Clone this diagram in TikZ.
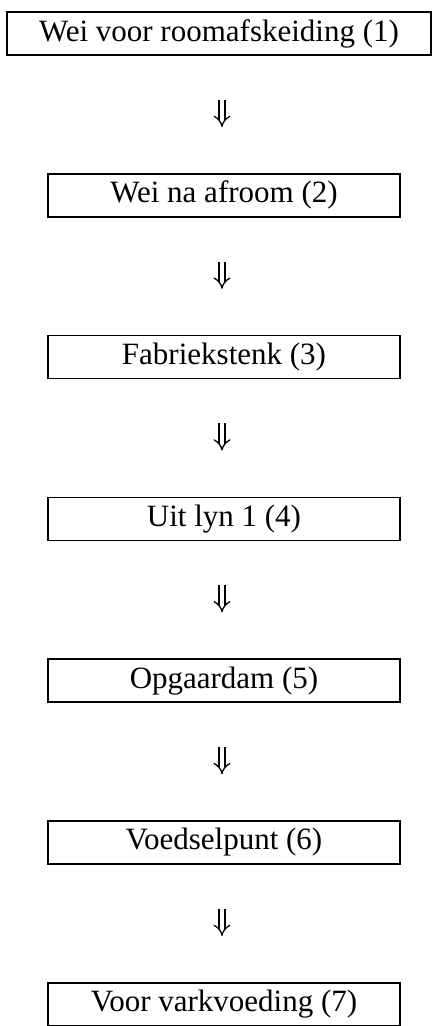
\documentclass[tikz,border=0pt]{standalone}
\usepackage{fontspec}
\setmainfont{Liberation Serif}
\usetikzlibrary{arrows.meta}
\begin{document}
\begin{tikzpicture}[x=1pt,y=-1pt,
  stage/.style={draw, line width=1.6pt, minimum height=43pt, inner sep=0pt,
    font=\fontsize{31}{37}\selectfont},
  wide/.style={stage, minimum width=424pt},
  narrow/.style={stage, minimum width=352pt},
  flow/.style={double, double distance=4.6pt, line width=1.3pt, -{Implies},
    shorten <=44pt, shorten >=46pt}]
\useasboundingbox (0,0) rectangle (432,1026);
\node[wide]   (b1) at (219,33.5)   {Wei voor roomafskeiding (1)};
\node[narrow] (b2) at (224,195.3)  {Wei na afroom (2)};
\node[narrow] (b3) at (224,357.1)  {Fabriekstenk (3)};
\node[narrow] (b4) at (224,518.9)  {Uit lyn 1 (4)};
\node[narrow] (b5) at (224,680.7)  {Opgaardam (5)};
\node[narrow] (b6) at (224,842.5)  {Voedselpunt (6)};
\node[narrow] (b7) at (224,1004.3) {Voor varkvoeding (7)};
\draw[flow] ([xshift=-2pt]b2.north |- b1.south) -- ([xshift=-2pt]b2.north);
\draw[flow] ([xshift=-2pt]b2.south) -- ([xshift=-2pt]b3.north);
\draw[flow] ([xshift=-2pt]b3.south) -- ([xshift=-2pt]b4.north);
\draw[flow] ([xshift=-2pt]b4.south) -- ([xshift=-2pt]b5.north);
\draw[flow] ([xshift=-2pt]b5.south) -- ([xshift=-2pt]b6.north);
\draw[flow] ([xshift=-2pt]b6.south) -- ([xshift=-2pt]b7.north);
\end{tikzpicture}
\end{document}
